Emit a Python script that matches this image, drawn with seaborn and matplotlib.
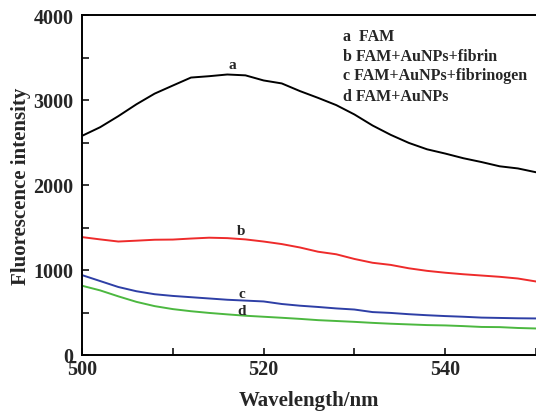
import numpy as np
import pandas as pd
import matplotlib
matplotlib.use("Agg")
import matplotlib.pyplot as plt
import seaborn as sns
from matplotlib.ticker import MultipleLocator

wavelength = [500, 502, 504, 506, 508, 510, 512, 514, 516, 518, 520, 522, 524,
              526, 528, 530, 532, 534, 536, 538, 540, 542, 544, 546, 548, 550]
fam = [2578, 2680, 2810, 2950, 3075, 3170, 3264, 3280, 3300, 3290, 3230, 3195, 3105,
       3025, 2940, 2830, 2700, 2590, 2495, 2420, 2370, 2315, 2270, 2220, 2195, 2150]
fam_au_fibrin = [1387, 1360, 1335, 1345, 1356, 1358, 1370, 1380, 1375, 1360, 1335, 1305, 1265,
                 1215, 1185, 1130, 1085, 1060, 1020, 990, 968, 950, 935, 920, 900, 865]
fam_au_fibrinogen = [940, 870, 800, 750, 715, 695, 680, 665, 650, 640, 630, 600, 580,
                     565, 548, 535, 505, 495, 480, 468, 458, 450, 440, 436, 432, 430]
fam_au = [815, 760, 690, 625, 575, 540, 515, 495, 478, 462, 450, 438, 425,
          410, 400, 390, 378, 368, 360, 352, 348, 340, 330, 328, 318, 312]

series_names = ["a", "b", "c", "d"]
legend_lines = ["a  FAM", "b FAM+AuNPs+fibrin", "c FAM+AuNPs+fibrinogen", "d FAM+AuNPs"]
colors = ["#000000", "#ee2b2b", "#2e3fa6", "#4cb840"]
label_pos = {"a": (516.5, 3420), "b": (517.5, 1460), "c": (517.6, 720), "d": (517.6, 520)}

frames = []
for name, vals in zip(series_names, [fam, fam_au_fibrin, fam_au_fibrinogen, fam_au]):
    frames.append(pd.DataFrame({"Wavelength": wavelength, "Intensity": vals, "Sample": name}))
df = pd.concat(frames, ignore_index=True)

sns.set_style("ticks")
plt.rcParams["font.family"] = ["Liberation Serif", "DejaVu Serif"]
plt.rcParams["font.weight"] = "bold"

fig = plt.figure(figsize=(5.36, 4.14), dpi=100)
ax = fig.add_axes([82 / 536, 58 / 414, (536 - 82) / 536, (356 - 16) / 414])

sns.lineplot(data=df, x="Wavelength", y="Intensity", hue="Sample",
             palette=dict(zip(series_names, colors)), linewidth=1.4, ax=ax, legend=False)

ax.set_xlim(500, 550)
ax.set_ylim(0, 4000)
ax.xaxis.set_major_locator(MultipleLocator(20))
ax.xaxis.set_minor_locator(MultipleLocator(10))
ax.yaxis.set_major_locator(MultipleLocator(1000))
ax.yaxis.set_minor_locator(MultipleLocator(500))
ax.tick_params(which="both", direction="in", length=5, width=1.3, top=False, right=False,
               labelsize=14.5)
ax.tick_params(axis="x", pad=3)
ax.tick_params(axis="y", pad=6)
for lab in ax.get_xticklabels() + ax.get_yticklabels():
    lab.set_fontweight("bold")

for s in ["left", "bottom", "top"]:
    ax.spines[s].set_linewidth(1.4)
    ax.spines[s].set_color("black")
ax.spines["right"].set_visible(False)

ax.set_xlabel("Wavelength/nm", fontsize=15, fontweight="bold", labelpad=8)
ax.set_ylabel("Fluorescence intensity", fontsize=15, fontweight="bold", labelpad=2)

for name in series_names:
    x, y = label_pos[name]
    ax.text(x, y, name, fontsize=11, fontweight="bold", ha="center", va="center")

ys = [3753, 3518, 3294, 3047]
for t, y in zip(legend_lines, ys):
    ax.text(528.7, y, t, fontsize=11.5, fontweight="bold", ha="left", va="center")

fig.savefig("out.png", dpi=100)
